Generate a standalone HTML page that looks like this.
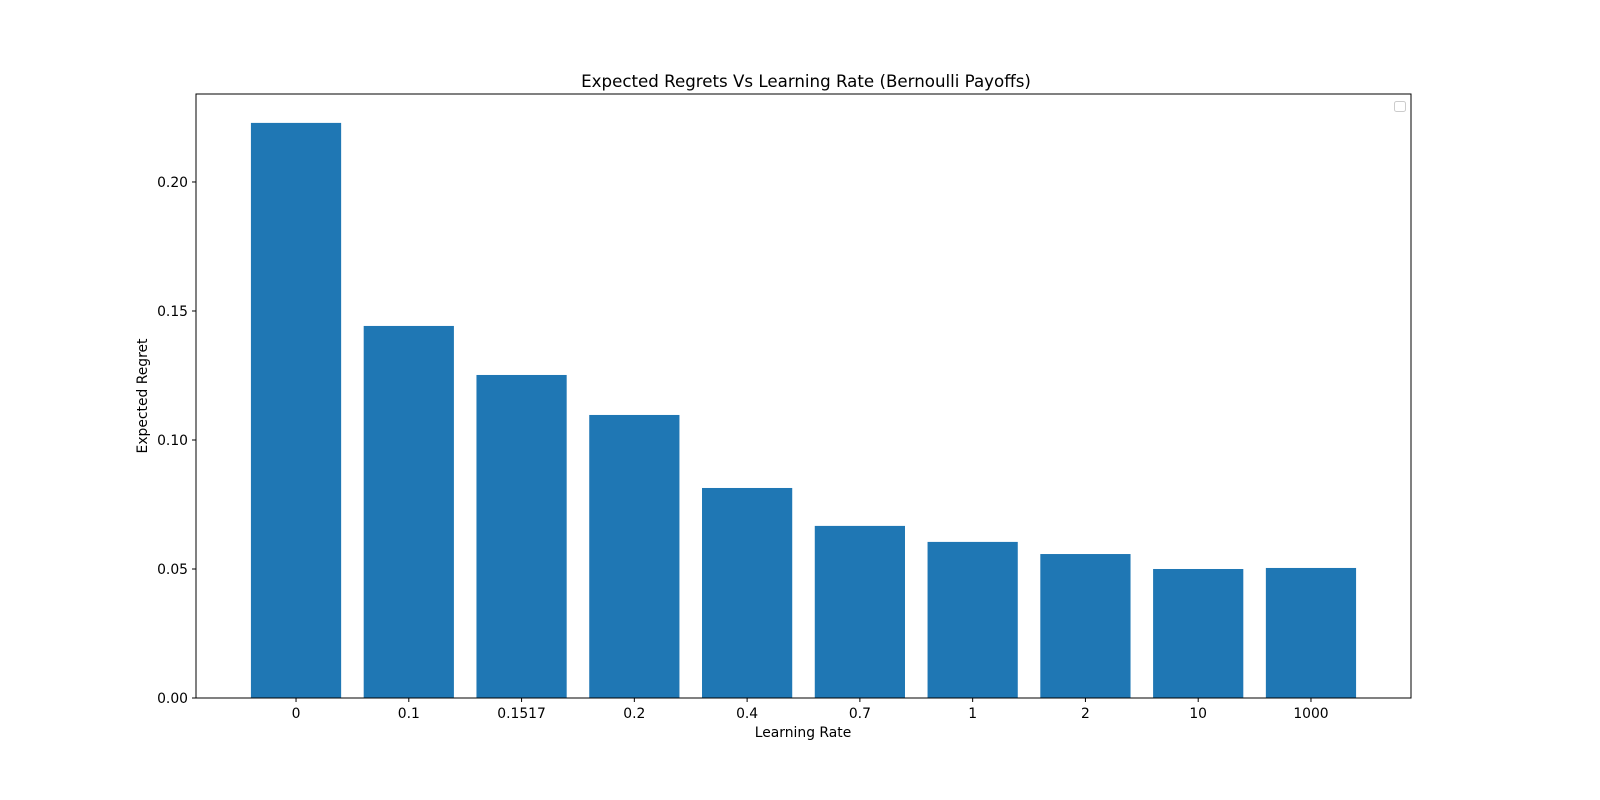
<!DOCTYPE html>
<html><head><meta charset="utf-8"><style>
body{margin:0;background:#fff;}
svg{display:block;font-family:"DejaVu Sans","Liberation Sans",sans-serif;}
</style></head><body>
<svg id="chart" width="1600" height="800">
<rect width="1600" height="800" fill="#fff"/>
<text x="806" y="87" text-anchor="middle" font-size="16.67">Expected Regrets Vs Learning Rate (Bernoulli Payoffs)</text>
<g id="bars"></g><g id="xticks"></g><g id="yticks"></g>
<rect x="196" y="94" width="1215" height="604" fill="none" stroke="#000" stroke-width="1"/>
<rect x="1394.5" y="101.5" width="11" height="10" rx="2" fill="#fff" stroke="#ccc"/>
<text x="803" y="737" text-anchor="middle" font-size="13.89">Learning Rate</text>
<text transform="translate(147,396) rotate(-90)" text-anchor="middle" font-size="13.89">Expected Regret</text>
</svg>
<script>
const categories=["0","0.1","0.1517","0.2","0.4","0.7","1","2","10","1000"];
const values=[0.2229,0.1442,0.1252,0.1097,0.0814,0.0667,0.0605,0.0558,0.0500,0.0504];
const yTicks=[0,0.05,0.10,0.15,0.20];
const yTickLabels=["0.00","0.05","0.10","0.15","0.20"];
const ns="http://www.w3.org/2000/svg";
const L=196,R=1411,T=94,B=698;
const xmin=-0.887,xmax=categories.length-1+0.887;
const x=i=>L+(i-xmin)/(xmax-xmin)*(R-L);
const y=v=>B-v/0.2341*(B-T);
const bw=0.8*(R-L)/(xmax-xmin);
function mk(t,a){const e=document.createElementNS(ns,t);for(const k in a)e.setAttribute(k,a[k]);return e;}
const gb=document.getElementById('bars'),gx=document.getElementById('xticks'),gy=document.getElementById('yticks');
categories.forEach((c,i)=>{
 const r=mk('rect',{x:x(i)-bw/2,y:y(values[i]),width:bw,height:B-y(values[i]),fill:'#1f77b4'});
 
 
 gb.appendChild(r);
 const tk=mk('line',{x1:x(i),x2:x(i),y1:B,y2:B+4,stroke:'#000'});
 
 
 gx.appendChild(tk);
 const t=mk('text',{x:x(i),y:B+20,'text-anchor':'middle','font-size':'13.89'});
 t.textContent=c;
 
 
 gx.appendChild(t);
});
yTicks.forEach((v,i)=>{
 const tk=mk('line',{x1:L-4,x2:L,y1:y(v),y2:y(v),stroke:'#000'});
 
 
 gy.appendChild(tk);
 const t=mk('text',{x:L-8,y:y(v)+5,'text-anchor':'end','font-size':'13.89'});
 t.textContent=yTickLabels[i];
 
 
 gy.appendChild(t);
});
</script>
</body></html>
